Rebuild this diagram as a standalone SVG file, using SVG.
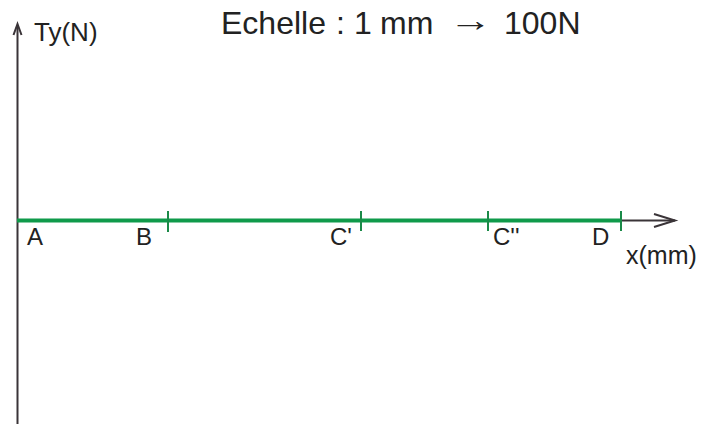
<svg xmlns="http://www.w3.org/2000/svg" width="701" height="424" viewBox="0 0 701 424">
<style>
text { font-family: "Liberation Sans", Arial, sans-serif; fill: #222; }
.lbl { font-size: 24px; }
.ttl { font-size: 32px; }
.axis { stroke: #3a3438; stroke-width: 2; fill: none; }
.tick { stroke: #1a8a48; stroke-width: 2; }
.seg { stroke: #0f9a4a; stroke-width: 4; }
</style>
<rect width="701" height="424" fill="#fff"/>
<g id="connectors">
<line class="axis" x1="17.5" y1="424" x2="17.5" y2="25"/>
<polyline class="axis" points="13.5,35 17.5,24 21.5,35"/>
<line class="axis" x1="17" y1="220.5" x2="675" y2="220.5"/>
<polyline class="axis" points="654,214 675,220.5 654,227"/>
<line class="seg" x1="17" y1="220.5" x2="621" y2="220.5"/>
</g>
<g id="tick-B"><line class="tick" x1="168" y1="211" x2="168" y2="232"/></g>
<g id="tick-C1"><line class="tick" x1="361" y1="211" x2="361" y2="231"/></g>
<g id="tick-C2"><line class="tick" x1="488" y1="211" x2="488" y2="231"/></g>
<g id="tick-D"><line class="tick" x1="621" y1="211" x2="621" y2="231"/></g>
<g id="node-A"><text class="lbl" x="27" y="245">A</text></g>
<g id="node-B"><text class="lbl" x="136" y="245">B</text></g>
<g id="node-C1"><text class="lbl" x="330" y="245">C'</text></g>
<g id="node-C2"><text class="lbl" x="493" y="245">C''</text></g>
<g id="node-D"><text class="lbl" x="592" y="245">D</text></g>
<g id="label-x"><text x="626" y="264" font-size="25">x(mm)</text></g>
<g id="label-y"><text x="34" y="41" font-size="26">Ty(N)</text></g>
<g id="title">
<text class="ttl" y="34"><tspan x="221">Echelle</tspan> <tspan x="336">:</tspan> <tspan x="354">1</tspan> <tspan x="380">mm</tspan> <tspan x="504">100N</tspan></text>
<text class="ttl" transform="translate(449,31) scale(1.36,1)">→</text>
</g>
</svg>
